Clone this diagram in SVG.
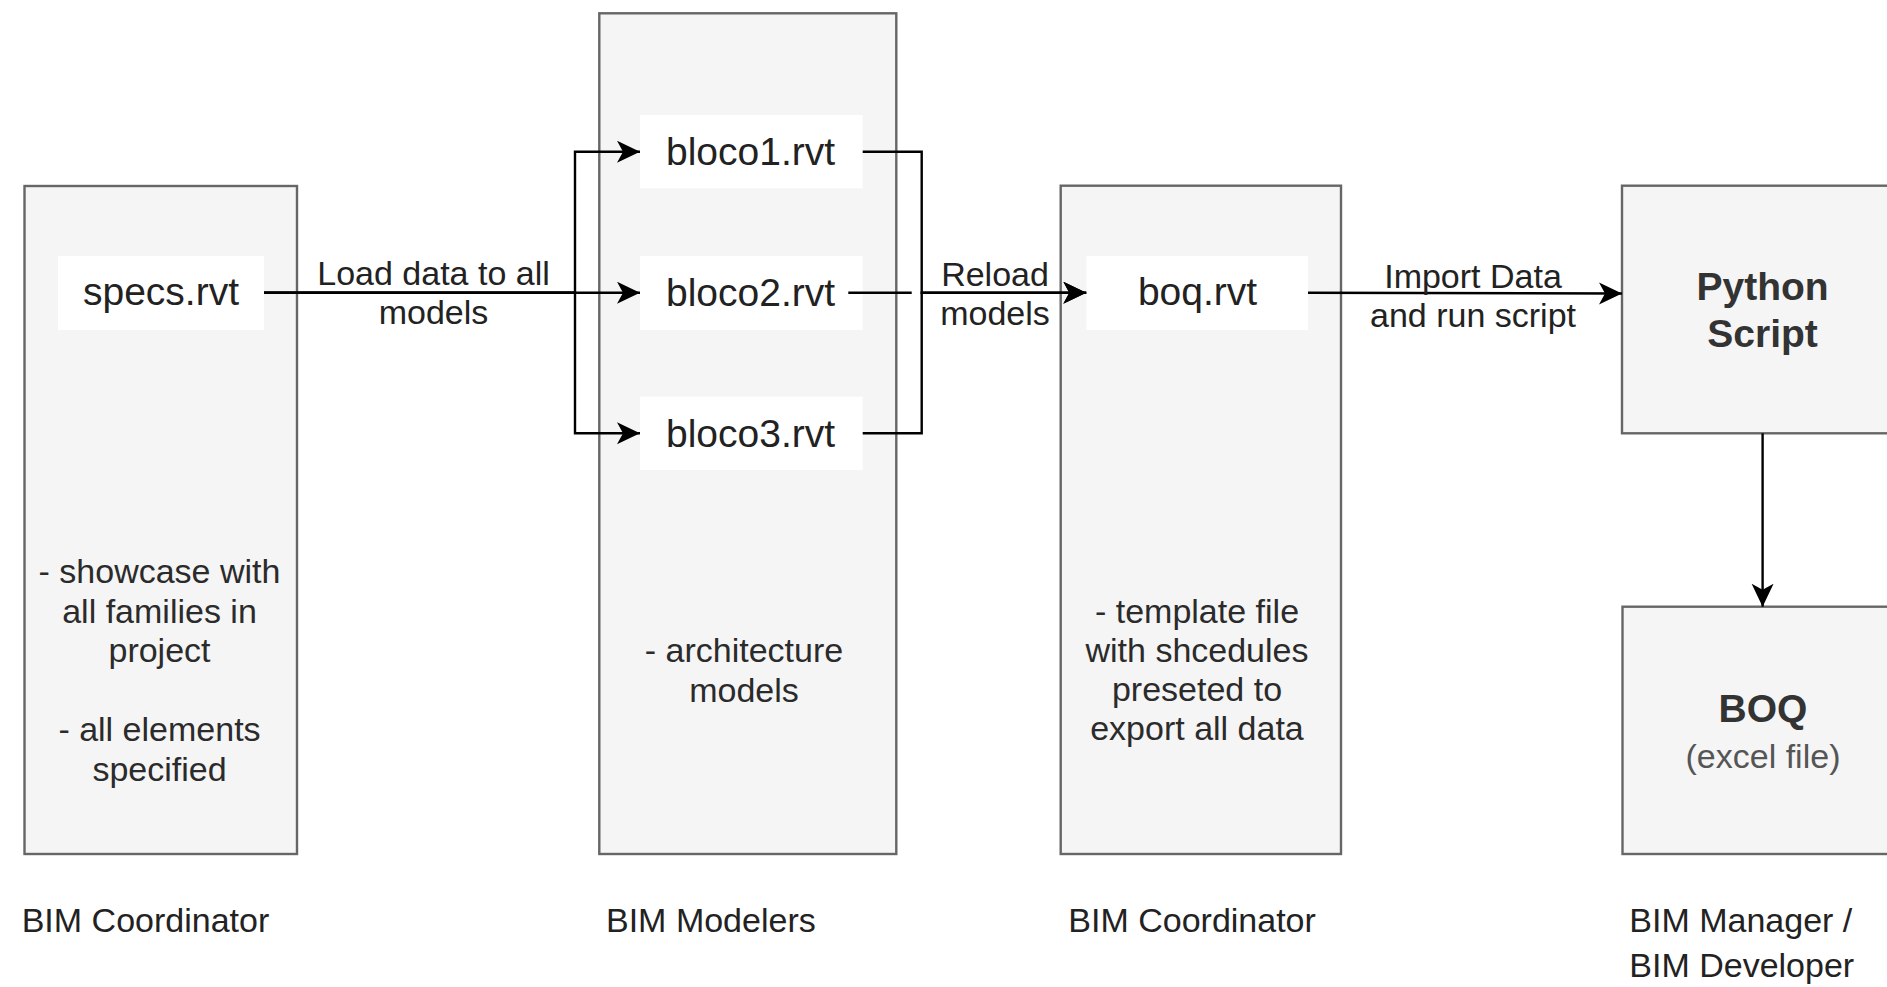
<svg xmlns="http://www.w3.org/2000/svg" width="1887" height="987" viewBox="0 0 1887 987">
  <style>
    .box { fill: #f5f5f5; stroke: #666666; stroke-width: 2.4; }
    .lbl { fill: #ffffff; stroke: none; }
    text { font-family: "Liberation Sans", Arial, Helvetica, sans-serif; fill: #222222; }
    .node { font-size: 39px; text-anchor: middle; }
    .body { font-size: 34px; text-anchor: middle; fill: #2b2b2b; }
    .edge { font-size: 34px; text-anchor: middle; }
    .role { font-size: 34px; text-anchor: start; }
    .bold { font-size: 39px; font-weight: bold; text-anchor: middle; fill: #333333; }
    .sub { font-size: 34px; text-anchor: middle; fill: #555555; }
    .conn { fill: none; stroke: #000000; stroke-width: 2.4; }
  </style>
  <defs>
    <marker id="arrow" markerUnits="userSpaceOnUse" markerWidth="24" markerHeight="24" refX="23" refY="11" orient="auto">
      <path d="M0,0 L23,11 L0,22 L6,11 Z" fill="#000000"/>
    </marker>
  </defs>
  <rect width="1887" height="987" fill="#ffffff"/>

  <g id="coordinator-specs">
    <rect class="box" x="24.5" y="186" width="272.5" height="668"/>
    <rect class="lbl" x="58" y="256" width="206" height="74"/>
    <text class="node" x="161" y="305">specs.rvt</text>
    <text class="body" x="159.5" y="583">- showcase with</text>
    <text class="body" x="159.5" y="622.5">all families in</text>
    <text class="body" x="159.5" y="662">project</text>
    <text class="body" x="159.5" y="741">- all elements</text>
    <text class="body" x="159.5" y="780.5">specified</text>
  </g>

  <g id="modelers">
    <rect class="box" x="599.3" y="13.3" width="297" height="840.7"/>
    <text class="body" x="744" y="661.7">- architecture</text>
    <text class="body" x="744" y="701.7">models</text>
  </g>

  <g id="bloco1">
    <rect class="lbl" x="640" y="115" width="222.7" height="73.3"/>
    <text class="node" x="750.5" y="165">bloco1.rvt</text>
  </g>
  <g id="bloco2">
    <rect class="lbl" x="640" y="256" width="222.7" height="74"/>
    <text class="node" x="750.5" y="306">bloco2.rvt</text>
  </g>
  <g id="bloco3">
    <rect class="lbl" x="640" y="396.7" width="222.7" height="73.3"/>
    <text class="node" x="750.5" y="446.7">bloco3.rvt</text>
  </g>

  <g id="coordinator-boq">
    <rect class="box" x="1060.7" y="185.7" width="280.3" height="668.3"/>
    <rect class="lbl" x="1086.3" y="256" width="221.7" height="74"/>
    <text class="node" x="1197.5" y="305">boq.rvt</text>
    <text class="body" x="1197" y="623.3">- template file</text>
    <text class="body" x="1197" y="662">with shcedules</text>
    <text class="body" x="1197" y="700.5">preseted to</text>
    <text class="body" x="1197" y="739.5">export all data</text>
  </g>

  <g id="python-script">
    <rect class="box" x="1622" y="185.7" width="281" height="247.6"/>
    <text class="bold" x="1762.6" y="300">Python</text>
    <text class="bold" x="1762.6" y="346.7">Script</text>
  </g>

  <g id="boq-excel">
    <rect class="box" x="1622.5" y="606.7" width="281" height="247.3"/>
    <text class="bold" x="1763" y="721.7">BOQ</text>
    <text class="sub" x="1763" y="768.3">(excel file)</text>
  </g>

  <g id="roles">
    <text class="role" x="21.7" y="931.7">BIM Coordinator</text>
    <text class="role" x="606" y="931.7">BIM Modelers</text>
    <text class="role" x="1068.3" y="931.7">BIM Coordinator</text>
    <text class="role" x="1629.3" y="931.7">BIM Manager /</text>
    <text class="role" x="1629.3" y="977">BIM Developer</text>
  </g>

  <g id="connectors">
    <path class="conn" d="M264,292.7 H575 V151.7 H640" marker-end="url(#arrow)"/>
    <path class="conn" d="M264,292.7 H640" marker-end="url(#arrow)"/>
    <path class="conn" d="M264,292.7 H575 V433.3 H640" marker-end="url(#arrow)"/>
    <path class="conn" d="M862.7,151.7 H921.7 V292.7 H1086.3" marker-end="url(#arrow)"/>
    <path class="conn" d="M862.7,433.3 H921.7 V292.7 H1086.3" marker-end="url(#arrow)"/>
    <path class="conn" d="M848.3,292.7 H911.7"/>
    <path class="conn" d="M1308,292.7 L1622,293.5" marker-end="url(#arrow)"/>
    <path class="conn" d="M1762.6,433.3 V606.7" marker-end="url(#arrow)"/>
    <text class="edge" x="433.5" y="285">Load data to all</text>
    <text class="edge" x="433.5" y="324">models</text>
    <text class="edge" x="995" y="286">Reload</text>
    <text class="edge" x="995" y="325">models</text>
    <text class="edge" x="1473" y="288">Import Data</text>
    <text class="edge" x="1473" y="327">and run script</text>
  </g>
</svg>
